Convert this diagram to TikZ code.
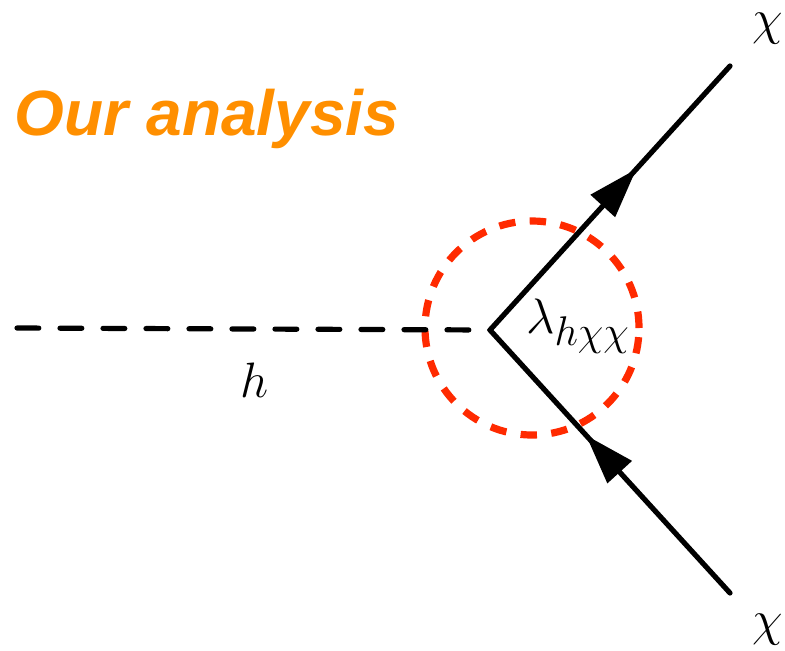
\documentclass[tikz,border=0pt]{standalone}
\usepackage{fontspec}
\newfontfamily\titlefont{Liberation Sans}
\usetikzlibrary{arrows.meta}
\usetikzlibrary{decorations.markings}
\usepackage{xcolor}
\definecolor{vertexred}{RGB}{255,42,0}
\definecolor{titleorange}{RGB}{255,143,0}
\DeclareMathSizes{26}{26}{20}{15}

\begin{document}
\begin{tikzpicture}[x=0.5pt,y=-0.5pt,
    fermion/.style={line width=2.6pt, line cap=round, postaction={decorate},
        decoration={markings, mark=at position #1 with {\arrow{Triangle[length=25pt,width=16pt]}}}},
    scalar/.style={line width=2.6pt, line cap=round, dash pattern=on 10.9pt off 10.6pt},
    lbl/.style={font=\fontsize{26}{31}\selectfont}]
    \useasboundingbox (0,0) rectangle (785,650);

    % Title
    \node[text=titleorange, font=\titlefont\fontsize{32}{38}\selectfont\bfseries\itshape] (title) at (207,119) {Our analysis};

    % Vertex and external legs
    \coordinate (v) at (490,330);
    \coordinate (h0) at (17,328);
    \coordinate (e1) at (730,66);
    \coordinate (e2) at (730,593);

    % Coupling blob
    \node[draw=vertexred, circle, line width=3.6pt, dash pattern=on 8.2pt off 7.2pt, minimum size=107pt] (blob) at (532,328) {};

    % Lines
    \draw[scalar] (h0) -- (v);
    \draw[fermion=0.61] (v) -- (e1);
    \draw[fermion=0.6] (e2) -- (v);

    % Labels
    \node[lbl] (hlab) at (255,380) {$h$};
    \node[lbl] (coup) at (578,326) {$\lambda_{h\chi\chi}$};
    \node[lbl] (chi1) at (768,29) {$\chi$};
    \node[lbl] (chi2) at (768,630) {$\chi$};
\end{tikzpicture}
\end{document}
